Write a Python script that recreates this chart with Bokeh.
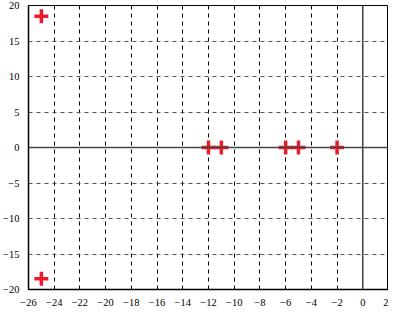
from bokeh.plotting import figure
from bokeh.models import Span, FixedTicker, Range1d
from bokeh.embed import file_html
from bokeh.resources import INLINE

# data: pole locations
x_vals = [-25, -25, -12, -11, -6, -5, -2]
y_vals = [18.5, -18.5, 0, 0, 0, 0, 0]

x_ticks = [-26, -24, -22, -20, -18, -16, -14, -12, -10, -8, -6, -4, -2, 0, 2]
y_ticks = [-20, -15, -10, -5, 0, 5, 10, 15, 20]

p = figure(width=388, height=308, output_backend="svg", toolbar_location=None,
           x_range=Range1d(-26, 2), y_range=Range1d(-20, 20),
           min_border_left=16, min_border_right=0, min_border_top=5, min_border_bottom=14)

p.background_fill_color = "white"
p.border_fill_color = "white"
p.outline_line_color = "black"
p.outline_line_width = 1

for ax in (p.xaxis[0], p.yaxis[0]):
    ax.axis_line_color = "black"
    ax.axis_line_width = 1.5
    ax.major_tick_line_color = None
    ax.minor_tick_line_color = None
    ax.major_label_text_font = "Times New Roman"
    ax.major_label_text_font_size = "10.5px"
    ax.major_label_text_color = "black"
    ax.major_label_standoff = 3

p.xaxis[0].ticker = FixedTicker(ticks=x_ticks)
p.yaxis[0].ticker = FixedTicker(ticks=y_ticks)

p.xgrid.ticker = FixedTicker(ticks=x_ticks[1:-1])
p.ygrid.ticker = FixedTicker(ticks=y_ticks[1:-1])
p.xgrid.grid_line_color = "black"
p.xgrid.grid_line_dash = "4 4"
p.xgrid.grid_line_width = 1
p.ygrid.grid_line_color = "#555555"
p.ygrid.grid_line_dash = "4 4"
p.ygrid.grid_line_width = 1

p.add_layout(Span(location=0, dimension="width", line_color="#444444", line_width=1.5))
p.add_layout(Span(location=0, dimension="height", line_color="#444444", line_width=1.5))

p.scatter(x_vals, y_vals, marker="cross", size=14, line_width=3.5, line_color="#ec1c2a")

open("out.html", "w").write(file_html(p, INLINE))
